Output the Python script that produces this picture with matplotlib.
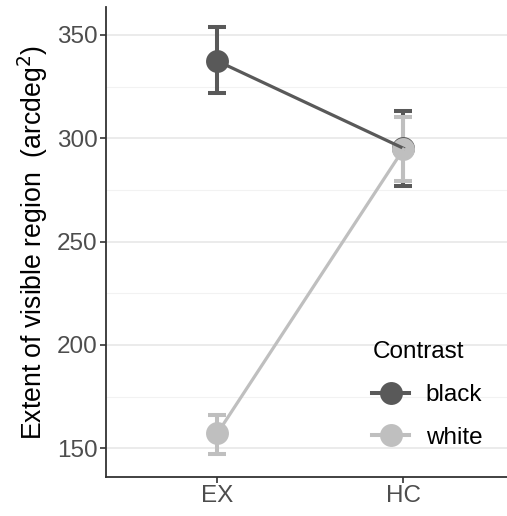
import matplotlib
matplotlib.use("Agg")
import matplotlib.pyplot as plt
from matplotlib.lines import Line2D
import numpy as np

plt.rcParams['font.family'] = ['Liberation Sans', 'DejaVu Sans']

categories = ["EX", "HC"]
contrasts = ["black", "white"]
means = {"black": [337.4, 295.2], "white": [157.2, 294.7]}
lower = {"black": [321.8, 277.0], "white": [147.0, 279.2]}
upper = {"black": [353.7, 313.2], "white": [166.1, 310.5]}
colors = {"black": "#595959", "white": "#BFBFBF"}
yticks = [150, 200, 250, 300, 350]
minor_yticks = [175, 225, 275, 325]

W, H = 507, 516
fig = plt.figure(figsize=(W / 100, H / 100), dpi=100)
ax = fig.add_axes([106 / W, 1 - 477 / H, 1 - 106 / W, (477 - 7) / H])

x = np.arange(1, len(categories) + 1)

# error bars
for c in contrasts:
    m = np.array(means[c]); lo = np.array(lower[c]); hi = np.array(upper[c])
    ax.errorbar(x, m, yerr=[m - lo, hi - m], fmt='none', ecolor=colors[c],
                elinewidth=2.9, capsize=6.5, capthick=2.9, zorder=3)
# points
for c in contrasts:
    ax.plot(x, means[c], 'o', color=colors[c], markersize=16.5, zorder=4,
            markeredgewidth=0)
# lines
for c in contrasts:
    ax.plot(x, means[c], '-', color=colors[c], linewidth=2.3, zorder=5)

ax.set_xlim(0.4016, 2.557)
ax.set_ylim(136.1, 363.55)
ax.set_xticks(x)
ax.set_xticklabels(categories)
ax.set_yticks(yticks)
ax.set_yticks(minor_yticks, minor=True)
ax.tick_params(axis='both', which='major', labelsize=17.5, colors='#333333',
               labelcolor='#4D4D4D', length=4, width=1.2, pad=2)
ax.tick_params(axis='y', which='minor', length=0)
ax.grid(True, which='major', axis='y', color='#EBEBEB', linewidth=1.4, zorder=0)
ax.grid(True, which='minor', axis='y', color='#F2F2F2', linewidth=0.8, zorder=0)
ax.grid(False, axis='x')
ax.set_axisbelow(True)
for s in ['top', 'right']:
    ax.spines[s].set_visible(False)
for s in ['left', 'bottom']:
    ax.spines[s].set_color('#333333')
    ax.spines[s].set_linewidth(1.3)

ax.set_ylabel(r"Extent of visible region  (arcdeg$^2$)", fontsize=19.2, color='black', labelpad=5)

handles = [Line2D([0], [0], color=colors[c], linewidth=2.9, marker='o', markersize=16.5,
                  markeredgewidth=0) for c in contrasts]
leg = ax.legend(handles, contrasts, title="Contrast", loc='upper left',
                bbox_to_anchor=(353 / W, 1 - 322 / H), bbox_transform=fig.transFigure,
                frameon=False, fontsize=17.5, title_fontsize=17.5, handlelength=1.5,
                handletextpad=0.7, labelspacing=0.85, alignment='left', borderpad=0.3)

fig.savefig("out.png", dpi=100)
